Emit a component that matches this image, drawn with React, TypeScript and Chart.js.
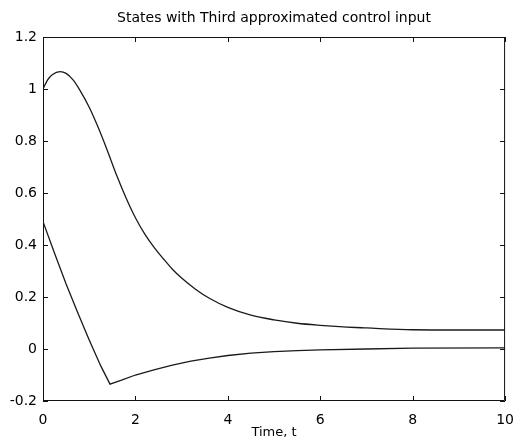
import React, { useEffect, useRef } from "react";
import { Chart, registerables } from "chart.js";

Chart.register(...registerables);

const titleText = "States with Third approximated control input";
const xLabel = "Time, t";
const xTicks = [0, 2, 4, 6, 8, 10];
const yTicks = [-0.2, 0, 0.2, 0.4, 0.6, 0.8, 1, 1.2];

const upperT = [0, 0.1, 0.2, 0.37, 0.5, 0.65, 0.8, 1.0, 1.2, 1.4, 1.6, 1.8, 2.0, 2.2, 2.4, 2.6, 2.8, 3.0, 3.3, 3.6, 4.0, 4.5, 5.0, 5.5, 6.0, 6.5, 7.0, 8.0, 9.0, 10];
const upperV = [1.0, 1.035, 1.055, 1.067, 1.06, 1.035, 0.995, 0.93, 0.85, 0.76, 0.665, 0.58, 0.505, 0.443, 0.392, 0.348, 0.307, 0.273, 0.23, 0.195, 0.16, 0.13, 0.112, 0.099, 0.091, 0.085, 0.081, 0.074, 0.073, 0.073];

const lowerT = [0, 0.25, 0.5, 0.75, 1.0, 1.25, 1.45, 1.7, 2.0, 2.4, 2.8, 3.2, 3.6, 4.0, 4.5, 5.0, 5.5, 6.0, 7.0, 8.0, 10];
const lowerV = [0.49, 0.368, 0.25, 0.14, 0.035, -0.065, -0.135, -0.12, -0.1, -0.08, -0.062, -0.047, -0.035, -0.025, -0.016, -0.01, -0.006, -0.003, 0.0, 0.003, 0.004];

const FONT = "'DejaVu Sans', 'Liberation Sans', Arial, sans-serif";

const framePlugin = {
  id: "matlabFrame",
  afterDatasetsDraw(chart: any) {
    const { ctx, chartArea } = chart;
    const xs = chart.scales.x;
    const ys = chart.scales.y;
    const L = 5;
    ctx.save();
    ctx.strokeStyle = "#111";
    ctx.lineWidth = 1;
    ctx.beginPath();
    ctx.rect(chartArea.left + 0.5, chartArea.top + 0.5, chartArea.right - chartArea.left - 1, chartArea.bottom - chartArea.top - 1);
    for (const v of xTicks) {
      const px = Math.round(xs.getPixelForValue(v)) + 0.5;
      ctx.moveTo(px, chartArea.bottom);
      ctx.lineTo(px, chartArea.bottom - L);
      ctx.moveTo(px, chartArea.top);
      ctx.lineTo(px, chartArea.top + L);
    }
    for (const v of yTicks) {
      const py = Math.round(ys.getPixelForValue(v)) + 0.5;
      ctx.moveTo(chartArea.left, py);
      ctx.lineTo(chartArea.left + L, py);
      ctx.moveTo(chartArea.right, py);
      ctx.lineTo(chartArea.right - L, py);
    }
    ctx.stroke();
    ctx.restore();
  },
};

export default function App() {
  const ref = useRef<HTMLCanvasElement | null>(null);
  useEffect(() => {
    if (!ref.current) return;
    const chart = new Chart(ref.current, {
      type: "line",
      data: {
        datasets: [
          {
            data: upperT.map((t, i) => ({ x: t, y: upperV[i] })),
            borderColor: "#1a1a1a",
            borderWidth: 1.3,
            pointRadius: 0,
            fill: false,
            cubicInterpolationMode: "monotone",
          },
          {
            data: lowerT.map((t, i) => ({ x: t, y: lowerV[i] })),
            borderColor: "#1a1a1a",
            borderWidth: 1.3,
            pointRadius: 0,
            fill: false,
            tension: 0,
          },
        ],
      },
      options: {
        animation: false,
        responsive: false,
        events: [],
        layout: { padding: { left: 0, right: 11, top: 0, bottom: 0 } },
        plugins: {
          legend: { display: false },
          tooltip: { enabled: false },
          title: {
            display: true,
            text: titleText,
            fullSize: false,
            color: "#000",
            font: { family: FONT, size: 14, weight: "normal" },
            padding: { top: 10, bottom: 10.2 },
          },
        },
        scales: {
          x: {
            type: "linear",
            min: 0,
            max: 10,
            afterBuildTicks: (s: any) => {
              s.ticks = xTicks.map((v) => ({ value: v }));
            },
            afterFit: (s: any) => {
              s.height = 44;
            },
            grid: { display: false },
            border: { display: false },
            ticks: {
              color: "#000",
              font: { family: FONT, size: 14 },
              padding: 3,
              maxRotation: 0,
              callback: (v: any) => String(v),
            },
            title: {
              display: true,
              text: xLabel,
              color: "#000",
              font: { family: FONT, size: 13 },
              padding: { top: 0, bottom: 4.2 },
            },
          },
          y: {
            type: "linear",
            min: -0.2,
            max: 1.2,
            afterBuildTicks: (s: any) => {
              s.ticks = yTicks.map((v) => ({ value: v }));
            },
            afterFit: (s: any) => {
              s.width = 43;
            },
            grid: { display: false, drawTicks: false },
            border: { display: false },
            ticks: {
              color: "#000",
              font: { family: FONT, size: 14 },
              padding: 6,
              callback: (v: any) => String(Math.round(Number(v) * 10) / 10),
            },
          },
        },
      },
      plugins: [framePlugin],
    } as any);
    return () => chart.destroy();
  }, []);
  return (
    <div style={{ position: "absolute", left: 0, top: 0, width: 517, height: 445, background: "#fff" }}>
      <canvas ref={ref} width={517} height={445} />
    </div>
  );
}
